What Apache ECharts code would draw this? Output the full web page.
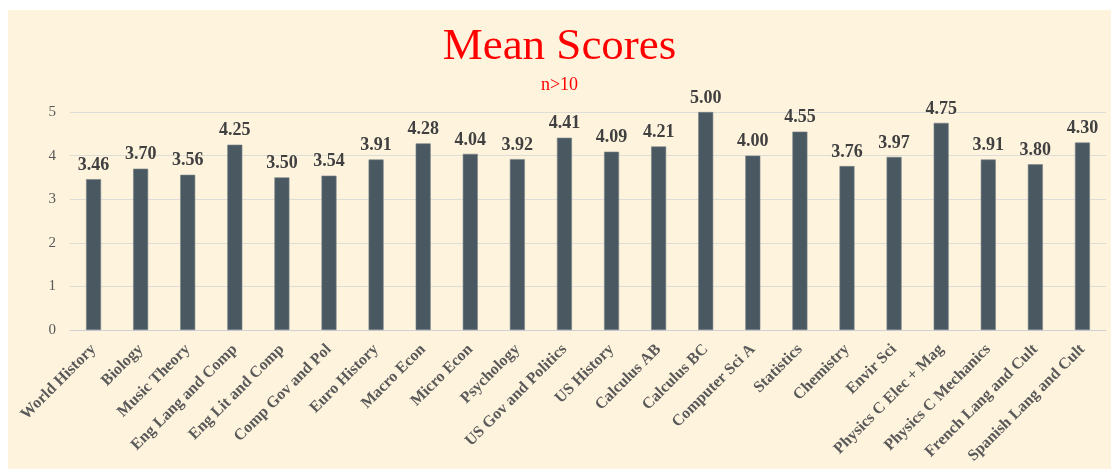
<!DOCTYPE html>
<html>
<head>
<meta charset="utf-8">
<script src="https://cdn.jsdelivr.net/npm/echarts@6/dist/echarts.min.js"></script>
<style>
    html, body { margin: 0; padding: 0; background: #ffffff; }
    #main { position: absolute; left: 8px; top: 10px; width: 1103px; height: 459px; }
</style>
</head>
<body>
<div id="main"></div>
<script>
var subjects = ['World History', 'Biology', 'Music Theory', 'Eng Lang and Comp', 'Eng Lit and Comp',
    'Comp Gov and Pol', 'Euro History', 'Macro Econ', 'Micro Econ', 'Psychology',
    'US Gov and Politics', 'US History', 'Calculus AB', 'Calculus BC', 'Computer Sci A',
    'Statistics', 'Chemistry', 'Envir Sci', 'Physics C Elec + Mag', 'Physics C Mechanics',
    'French Lang and Cult', 'Spanish Lang and Cult'];
var meanScores = [3.46, 3.70, 3.56, 4.25, 3.50, 3.54, 3.91, 4.28, 4.04, 3.92,
    4.41, 4.09, 4.21, 5.00, 4.00, 4.55, 3.76, 3.97, 4.75, 3.91, 3.80, 4.30];
var yTicks = [0, 1, 2, 3, 4, 5];

var serif = '"Liberation Serif", "Times New Roman", serif';

var chart = echarts.init(document.getElementById('main'));

// 图表配置
var option = {
    backgroundColor: '#fef3dd',
    animation: false,
    title: {
        text: 'Mean Scores',
        subtext: 'n>10',
        left: 'center',
        top: 10,
        itemGap: 6,
        textStyle: {
            fontFamily: serif,
            fontWeight: 'normal',
            fontSize: 45,
            color: '#ff0000'
        },
        subtextStyle: {
            fontFamily: serif,
            fontSize: 18,
            color: '#ff0000'
        }
    },
    grid: {
        left: 62,
        top: 102,
        width: 1036,
        height: 218
    },
    xAxis: {
        type: 'category',
        data: subjects,
        axisLine: { lineStyle: { color: '#d0d0d8', width: 1 } },
        axisTick: { show: false },
        axisLabel: {
            interval: 0,
            rotate: 45,
            margin: 17,
            fontFamily: serif,
            fontWeight: 'bold',
            fontSize: 16,
            color: '#595959'
        }
    },
    yAxis: {
        type: 'value',
        min: yTicks[0],
        max: yTicks[yTicks.length - 1],
        interval: 1,
        axisLine: { show: false },
        axisTick: { show: false },
        splitLine: { lineStyle: { color: '#dedcd6', width: 1 } },
        axisLabel: {
            margin: 14,
            fontFamily: serif,
            fontSize: 15,
            color: '#595959'
        }
    },
    series: [{
        name: 'Mean Score',
        type: 'bar',
        data: meanScores,
        barWidth: 15,
        itemStyle: {
            color: '#4a5861',
            borderColor: '#77838a',
            borderWidth: 0.6
        },
        label: {
            show: true,
            position: 'top',
            distance: 5,
            formatter: function (p) { return p.value.toFixed(2); },
            fontFamily: serif,
            fontWeight: 'bold',
            fontSize: 18,
            color: '#404040'
        }
    }]
};

chart.setOption(option);
</script>
</body>
</html>
